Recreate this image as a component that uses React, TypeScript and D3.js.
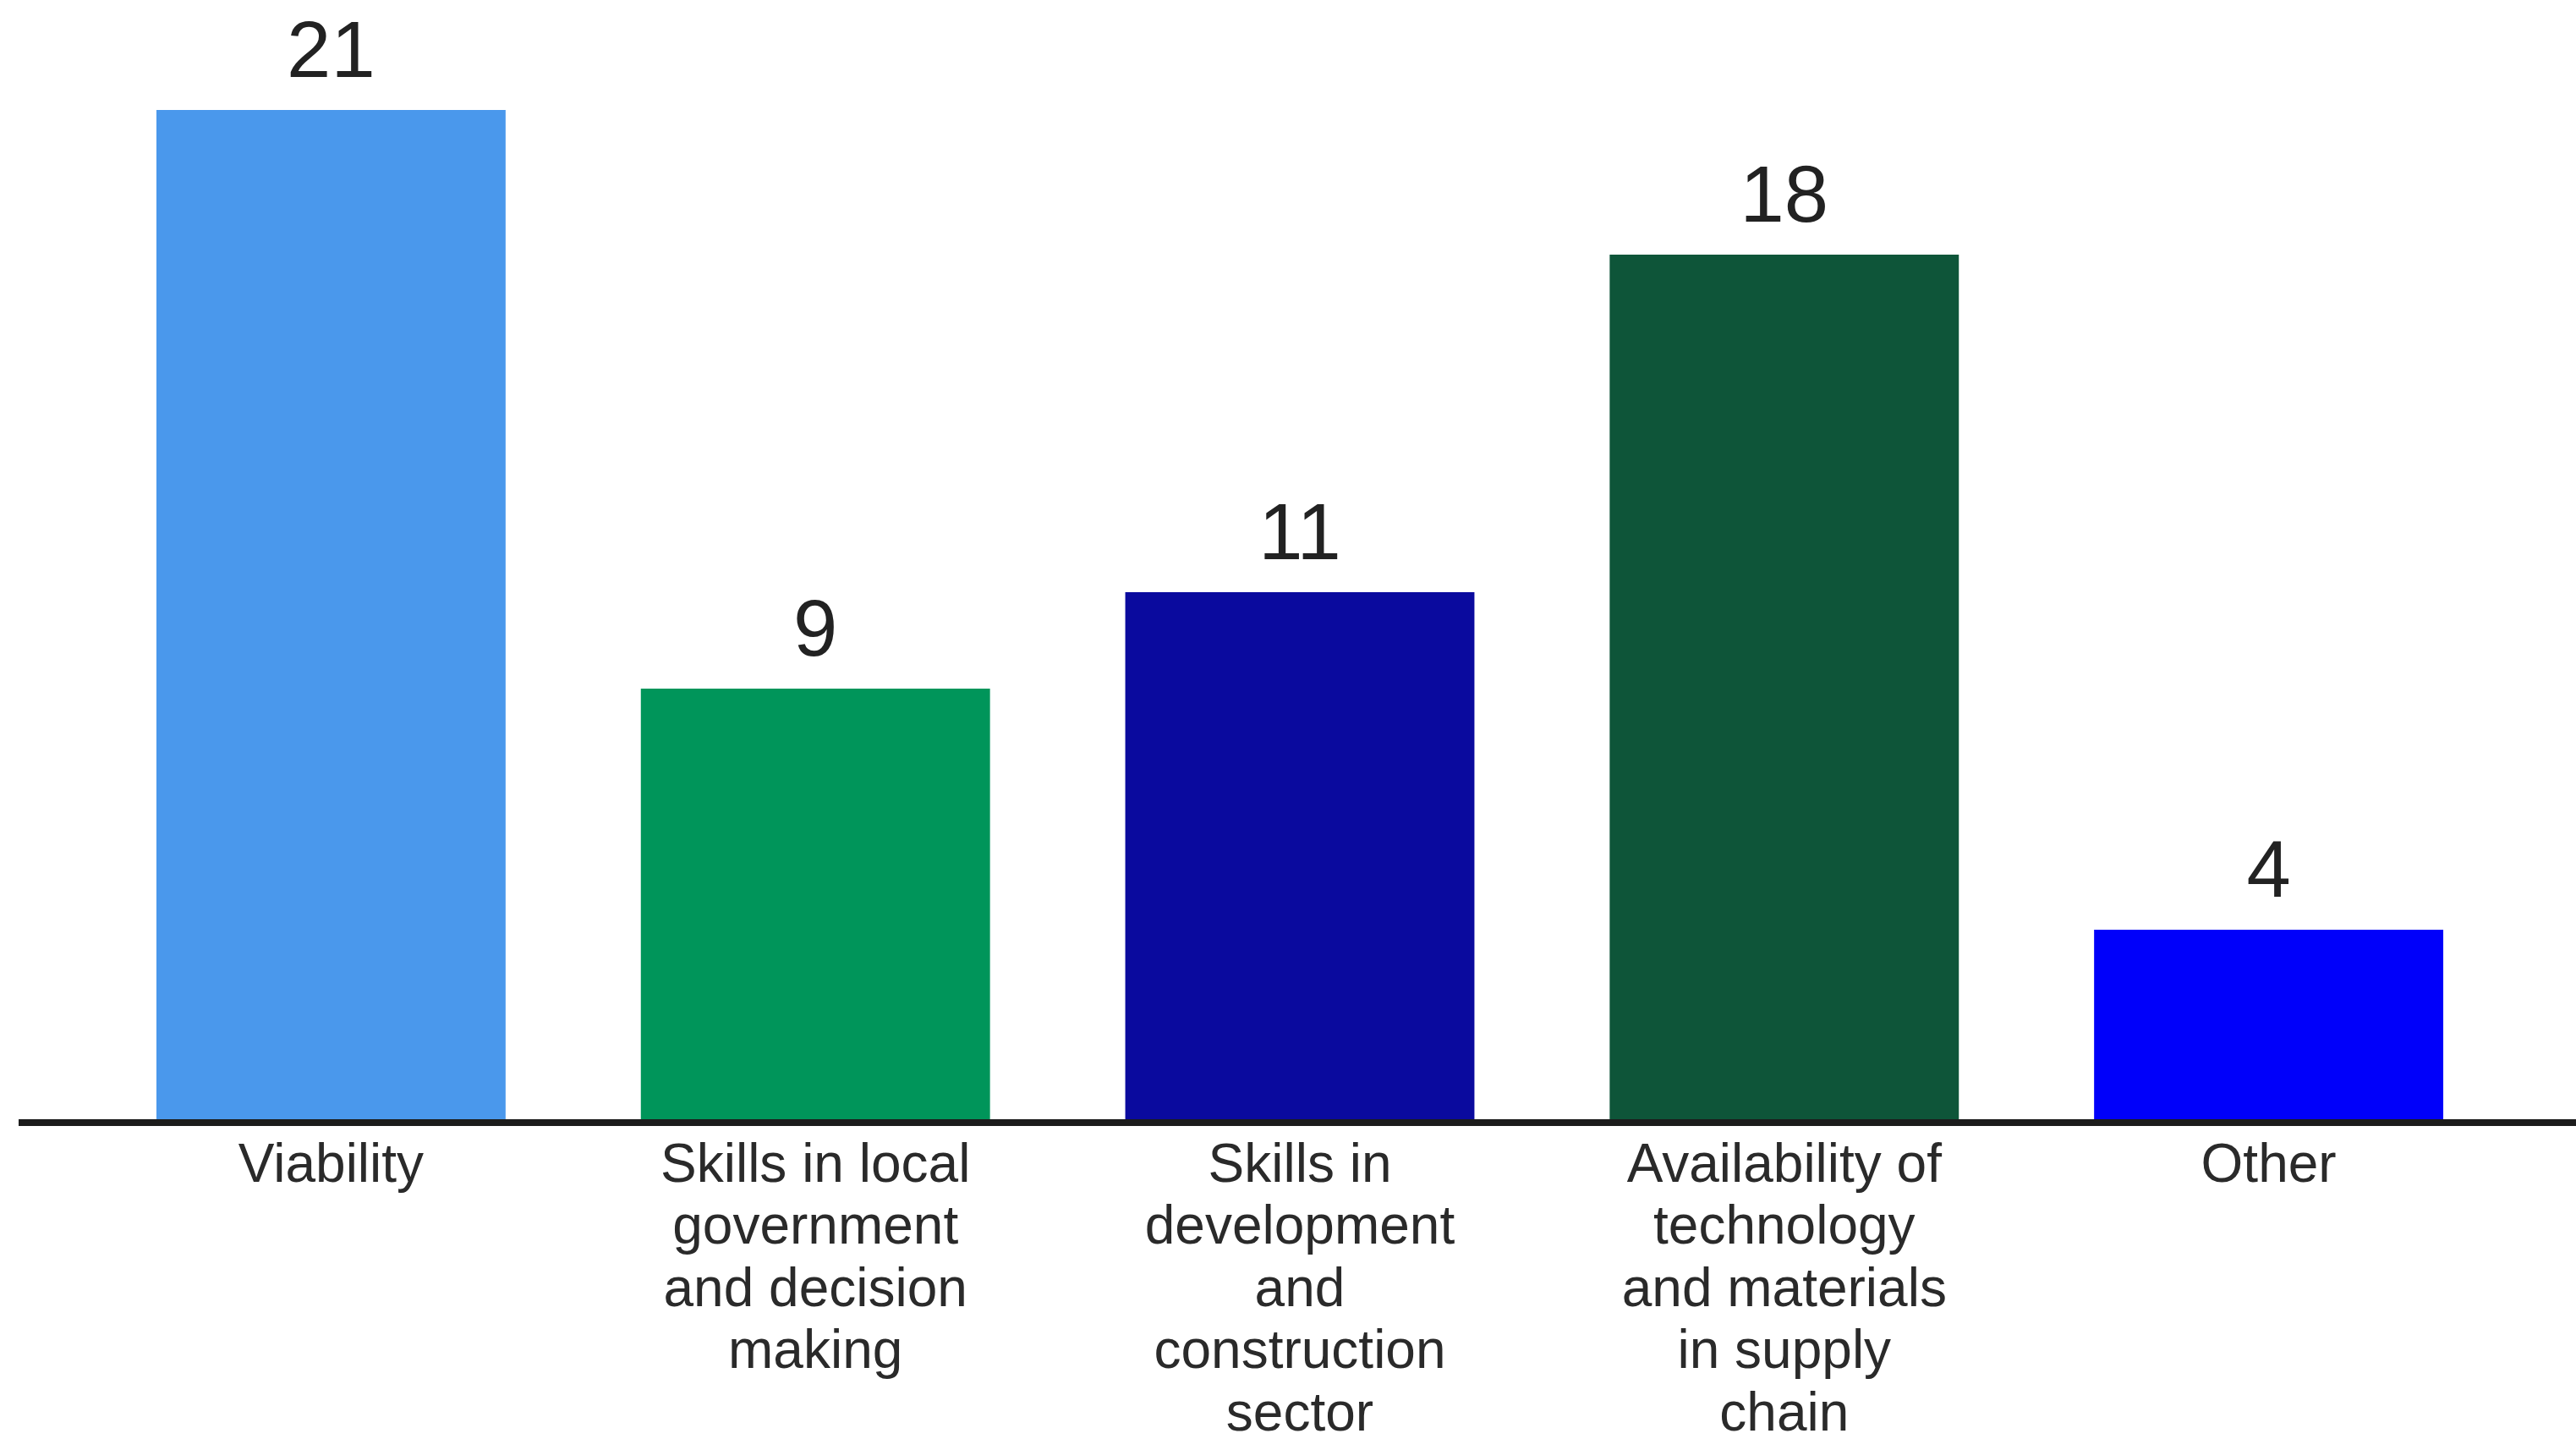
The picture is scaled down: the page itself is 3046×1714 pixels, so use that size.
import React from "react";
import * as d3 from "d3";

const categories = [
  "Viability",
  "Skills in local government and decision making",
  "Skills in development and construction sector",
  "Availability of technology and materials in supply chain",
  "Other",
];
const labelLines: string[][] = [
  ["Viability"],
  ["Skills in local", "government", "and decision", "making"],
  ["Skills in", "development", "and", "construction", "sector"],
  ["Availability of", "technology", "and materials", "in supply", "chain"],
  ["Other"],
];
const values = [21, 9, 11, 18, 4];
const colors = ["#4A98EC", "#00955A", "#0A0A9E", "#0E5539", "#0000FA"];

const W = 3046;
const H = 1714;
const AXIS_Y = 1327;

export default function App() {
  const x = d3
    .scaleBand<string>()
    .domain(categories)
    .range([105, 2969])
    .paddingInner(0.2792)
    .paddingOuter(0.1396);
  const y = d3.scaleLinear().domain([0, 21]).range([AXIS_Y, 130]);

  return (
    <svg
      width={W}
      height={H}
      viewBox={`0 0 ${W} ${H}`}
      style={{ position: "absolute", left: 0, top: 0, background: "#fff" }}
    >
      <rect x={0} y={0} width={W} height={H} fill="#fff" />
      {categories.map((c, i) => (
        <rect
          key={c}
          x={x(c)}
          y={y(values[i])}
          width={x.bandwidth()}
          height={AXIS_Y - y(values[i])}
          fill={colors[i]}
        />
      ))}
      <line x1={22} x2={W} y1={AXIS_Y} y2={AXIS_Y} stroke="#1c1c1c" strokeWidth={8} />
      {categories.map((c, i) => (
        <text
          key={"v" + c}
          x={(x(c) as number) + x.bandwidth() / 2}
          y={y(values[i]) - 39}
          textAnchor="middle"
          fontFamily="'Liberation Sans', Arial, sans-serif"
          fontSize={94}
          fill="#222"
        >
          {values[i]}
        </text>
      ))}
      {categories.map((c, i) => (
        <text
          key={"l" + c}
          x={(x(c) as number) + x.bandwidth() / 2}
          y={1397}
          textAnchor="middle"
          fontFamily="'Liberation Sans', Arial, sans-serif"
          fontSize={64}
          fill="#2a2a2a"
        >
          {labelLines[i].map((ln, j) => (
            <tspan key={j} x={(x(c) as number) + x.bandwidth() / 2} y={1397 + j * 73.4}>
              {ln}
            </tspan>
          ))}
        </text>
      ))}
    </svg>
  );
}
